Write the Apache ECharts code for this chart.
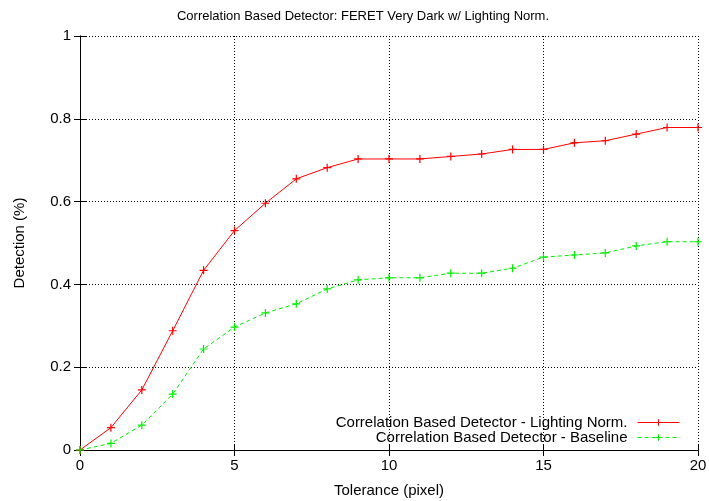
<!DOCTYPE html>
<html><head><meta charset="utf-8">
<script src="https://cdn.jsdelivr.net/npm/echarts@6/dist/echarts.min.js"></script>
<style>html,body{margin:0;padding:0;background:#fff}#c{width:709px;height:501px}</style>
</head><body><div id="c"></div>
<script>
const tolerance = [0,1,2,3,4,5,6,7,8,9,10,11,12,13,14,15,16,17,18,19,20];
const lightingNorm = [0,0.054,0.145,0.288,0.434,0.530,0.596,0.655,0.682,0.703,0.703,0.703,0.709,0.715,0.726,0.726,0.742,0.747,0.763,0.779,0.779];
const baseline = [0,0.016,0.060,0.135,0.244,0.297,0.331,0.353,0.389,0.411,0.416,0.416,0.427,0.427,0.439,0.466,0.471,0.476,0.493,0.503,0.503];
const seriesNames = ['Correlation Based Detector - Lighting Norm.', 'Correlation Based Detector - Baseline'];

const font = 'Liberation Sans, Arial, Helvetica, sans-serif';
const plus = 'path://M4.25,0H5.75V4.25H10V5.75H5.75V10H4.25V5.75H0V4.25H4.25Z';
const chart = echarts.init(document.getElementById('c'), null, {renderer:'canvas'});
const gridLine = {show:true, lineStyle:{color:'#000', type:[1,2], width:1}};
const tick = {show:true, inside:true, length:6, lineStyle:{color:'#000', width:1}};
chart.setOption({
  animation:false,
  title:{text:'Correlation Based Detector: FERET Very Dark w/ Lighting Norm.', left:358, top:5, textAlign:'center',
    textStyle:{fontFamily:font, fontSize:13, fontWeight:'normal', color:'#000'}},
  grid:{left:80, right:11, top:36, bottom:51, outerBoundsMode:'none', containLabel:false},
  legend:{right:24, bottom:51, orient:'vertical', align:'right', itemWidth:42, itemHeight:8, itemGap:0,
    lineStyle:{width:1},
    textStyle:{fontFamily:font, fontSize:15, color:'#000', lineHeight:14, padding:[0,5,0,0]},
    data: seriesNames},
  xAxis:[{type:'value', min:0, max:20, interval:5, name:'Tolerance (pixel)', nameLocation:'middle', nameGap:33,
    nameTextStyle:{fontFamily:font, fontSize:15, color:'#000'},
    axisLine:{show:true, lineStyle:{color:'#000', width:1}}, axisTick:tick, splitLine:gridLine,
    axisLabel:{fontFamily:font, fontSize:15, color:'#000', margin:8}},
    {type:'value', position:'top', min:0, max:20, interval:5, axisLine:{show:true, lineStyle:{color:'#000'}}, axisTick:tick, axisLabel:{show:false}, splitLine:{show:false}}],
  yAxis:[{type:'value', min:0, max:1, interval:0.2, name:'Detection (%)', nameLocation:'middle', nameGap:53, nameRotate:90,
    nameTextStyle:{fontFamily:font, fontSize:15, color:'#000'},
    axisLine:{show:true, lineStyle:{color:'#000', width:1}}, axisTick:tick, splitLine:gridLine,
    axisLabel:{fontFamily:font, fontSize:15, color:'#000', margin:9}},
    {type:'value', position:'right', min:0, max:1, interval:0.2, axisLine:{show:true, lineStyle:{color:'#000'}}, axisTick:tick, axisLabel:{show:false}, splitLine:{show:false}}],
  series:[
    {name:seriesNames[0], type:'line', data:tolerance.map((x,i)=>[x,lightingNorm[i]]),
      symbol:plus, symbolSize:8, showAllSymbol:true,
      lineStyle:{color:'#ff0000', width:1}, itemStyle:{color:'#ff0000'}},
    {name:seriesNames[1], type:'line', data:tolerance.map((x,i)=>[x,baseline[i]]),
      symbol:plus, symbolSize:8, showAllSymbol:true,
      lineStyle:{color:'#00ee00', width:1, type:[4,3]}, itemStyle:{color:'#00ee00'}}
  ]
});
</script></body></html>
